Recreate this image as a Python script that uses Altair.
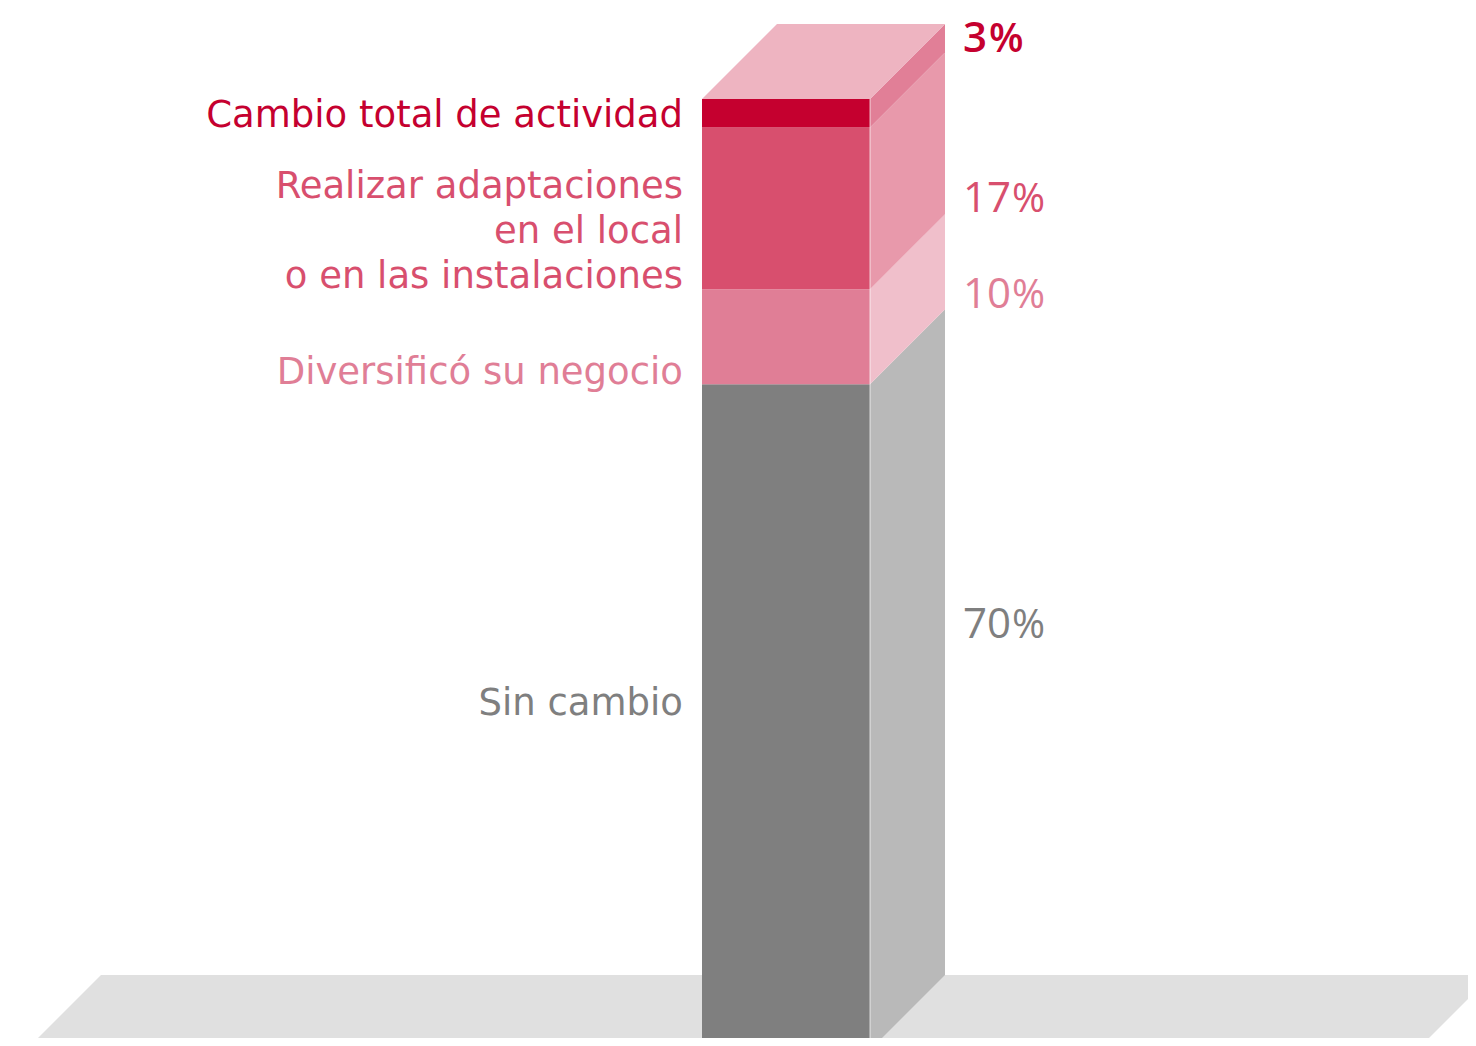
import altair as alt
import pandas as pd

# ---------------- data ----------------
categories = ["Sin cambio", "Diversificó su negocio",
              "Realizar adaptaciones\nen el local\no en las instalaciones",
              "Cambio total de actividad"]
values = [70, 10, 17, 3]

# ---------------- style / layout ----------------
front_colors = ["#7f7f7f", "#e07e96", "#d84f6e", "#c5002f"]
side_colors = ["#b9b9b9", "#f0bfcb", "#e899ab", "#e17f97"]
top_color = "#eeb4c1"
floor_color = "#e0e0e0"
label_colors = ["#7f7f7f", "#e07e96", "#d84f6e", "#c5002f"]

W, H = 1460, 1030            # chart size (page offset 8px)
PX_PER_PCT = 9.51
BASE_PX = 1050               # screen y of 0 %
TOP_PX = 8
Y_MAX = (BASE_PX - TOP_PX) / PX_PER_PCT
Y_MIN = (BASE_PX - (TOP_PX + H)) / PX_PER_PCT
FRONT_L, FRONT_R = 702, 870  # screen x of front face
DEPTH_PX = 75
DEPTH_PCT = DEPTH_PX / PX_PER_PCT
FLOOR_L, FLOOR_R = 26, 1417

def px2pct(py):
    return (BASE_PX - py) / PX_PER_PCT

label_baseline_px = [715, 384, 198, 127]
pct_baseline_px = [638, 308, 212, 52]
pct_bold = [False, False, False, True]
NUM_X = 963
DIGIT_W = 24
SIGN_GAP = 1

xs = alt.Scale(domain=[8, 8 + W], range=[0, W])
ys = alt.Scale(domain=[Y_MIN, Y_MAX], range=[H, 0])

# ---------------- derived tables ----------------
bottoms, tops = [], []
acc = 0
for v in values:
    bottoms.append(acc)
    acc += v
    tops.append(acc)

front = pd.DataFrame({"cat": categories, "bottom": bottoms, "top": tops,
                      "x": FRONT_L, "x2": FRONT_R, "color": front_colors})

side_rows = []
for c, b, t, col in zip(categories, bottoms, tops, side_colors):
    for f in (0.0, 1.0):
        side_rows.append({"cat": c, "x": FRONT_R + f * DEPTH_PX,
                          "y": b + f * DEPTH_PCT, "y2": t + f * DEPTH_PCT, "color": col})
side = pd.DataFrame(side_rows)

total = tops[-1]
top_face = pd.DataFrame([{"y": total + f * DEPTH_PCT,
                          "x": FRONT_L + f * DEPTH_PX,
                          "x2": FRONT_R + f * DEPTH_PX} for f in (0.0, 1.0)])

floor = pd.DataFrame([{"y": 0 + f * DEPTH_PCT,
                       "x": FLOOR_L + f * DEPTH_PX,
                       "x2": FLOOR_R + f * DEPTH_PX} for f in (0.0, 1.0)])

labels = pd.DataFrame({"text": categories, "y": [px2pct(p) for p in label_baseline_px],
                       "x": 683, "color": label_colors})
pcts = pd.DataFrame({"num": [str(v) for v in values],
                     "y": [px2pct(p) for p in pct_baseline_px],
                     "x": NUM_X,
                     "xs": [NUM_X + len(str(v)) * DIGIT_W + SIGN_GAP + (1 if b else 0)
                            for v, b in zip(values, pct_bold)],
                     "color": label_colors, "bold": pct_bold})

FONT = "DejaVu Sans"
NUM_FONT = "Open Sans"

floor_layer = alt.Chart(floor).mark_area(orient="horizontal", color=floor_color).encode(
    y=alt.Y("y:Q", scale=ys, axis=None, stack=None),
    x=alt.X("x:Q", scale=xs, axis=None),
    x2="x2:Q")

side_layer = alt.Chart(side).mark_area(strokeWidth=0).encode(
    x=alt.X("x:Q", scale=xs, axis=None),
    y=alt.Y("y:Q", scale=ys, axis=None, stack=None),
    y2="y2:Q",
    detail="cat:N",
    fill=alt.Fill("color:N", scale=None))

front_layer = alt.Chart(front).mark_rect().encode(
    x=alt.X("x:Q", scale=xs, axis=None), x2="x2:Q",
    y=alt.Y("bottom:Q", scale=ys, axis=None), y2="top:Q",
    fill=alt.Fill("color:N", scale=None))

top_layer = alt.Chart(top_face).mark_area(orient="horizontal", color=top_color).encode(
    y=alt.Y("y:Q", scale=ys, axis=None, stack=None),
    x=alt.X("x:Q", scale=xs, axis=None),
    x2="x2:Q")

edge_layer = alt.Chart(pd.DataFrame({"x": [FRONT_R], "y": [0], "y2": [total]})).mark_rule(
    color="white", strokeWidth=1, opacity=0.7).encode(
    x=alt.X("x:Q", scale=xs, axis=None),
    y=alt.Y("y:Q", scale=ys, axis=None), y2="y2:Q")

label_layer = alt.Chart(labels).mark_text(
    align="right", baseline="alphabetic", font=FONT, fontSize=37,
    lineBreak="\n", lineHeight=45).encode(
    x=alt.X("x:Q", scale=xs, axis=None),
    y=alt.Y("y:Q", scale=ys, axis=None),
    text="text:N",
    color=alt.Color("color:N", scale=None))

def pct_text(bold, sign):
    base = alt.Chart(pcts).transform_filter(
        alt.datum.bold if bold else ~alt.datum.bold
    ).mark_text(
        align="left", baseline="alphabetic", font=NUM_FONT,
        fontSize=40 if sign else 42,
        fontWeight=600 if bold else 500)
    if sign:
        return base.encode(
            x=alt.X("xs:Q", scale=xs, axis=None),
            y=alt.Y("y:Q", scale=ys, axis=None),
            text=alt.value("%"),
            color=alt.Color("color:N", scale=None))
    return base.encode(
        x=alt.X("x:Q", scale=xs, axis=None),
        y=alt.Y("y:Q", scale=ys, axis=None),
        text="num:N",
        color=alt.Color("color:N", scale=None))

chart = alt.layer(floor_layer, side_layer, front_layer, top_layer, edge_layer,
                  label_layer,
                  pct_text(False, False), pct_text(False, True),
                  pct_text(True, False), pct_text(True, True)).properties(
    width=W, height=H, padding=0, autosize=alt.AutoSizeParams(type="none")
).configure_view(stroke=None)

chart.save("out.html", embed_options={"renderer": "svg", "actions": False})
